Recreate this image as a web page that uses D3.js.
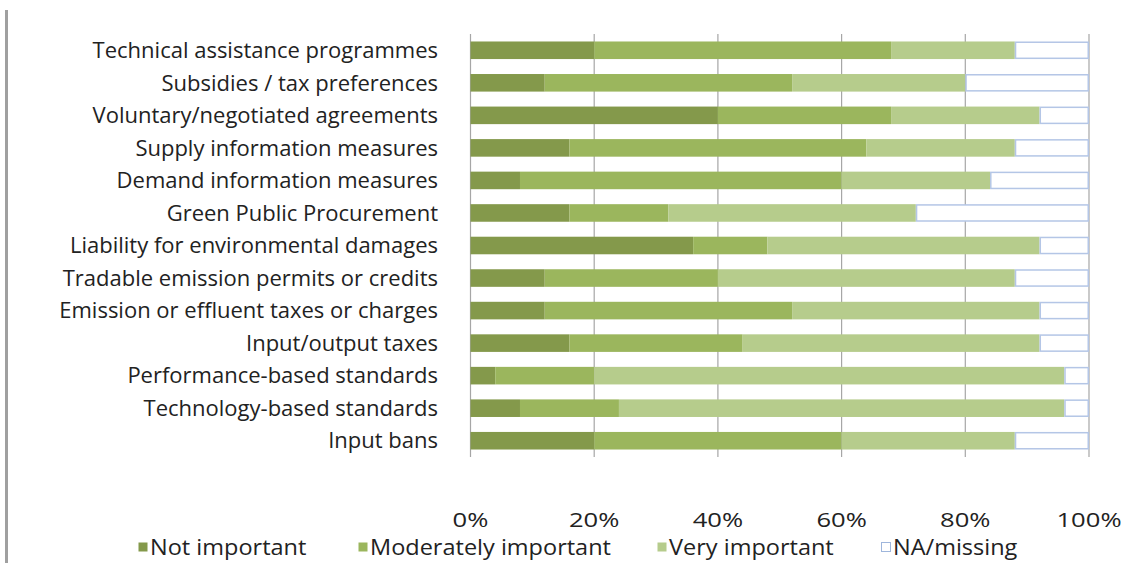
<!DOCTYPE html>
<html>
<head>
<meta charset="utf-8">
<script src="https://d3js.org/d3.v7.min.js"></script>
<style>
    body { margin: 0; background: #fff; }
    svg text { font-family: "Open Sans", sans-serif; fill: #222; }
</style>
</head>
<body>
<svg width="1133" height="563"></svg>
<script>
    // categories, top to bottom
    var categories = [
        "Technical assistance programmes",
        "Subsidies / tax preferences",
        "Voluntary/negotiated agreements",
        "Supply information measures",
        "Demand information measures",
        "Green Public Procurement",
        "Liability for environmental damages",
        "Tradable emission permits or credits",
        "Emission or effluent taxes or charges",
        "Input/output taxes",
        "Performance-based standards",
        "Technology-based standards",
        "Input bans"
    ];
    var seriesNames = ["Not important", "Moderately important", "Very important", "NA/missing"];
    // shares in percent
    var notImportant = [20, 12, 40, 16, 8, 16, 36, 12, 12, 16, 4, 8, 20];
    var moderately = [48, 40, 28, 48, 52, 16, 12, 28, 40, 28, 16, 16, 40];
    var veryImportant = [20, 28, 24, 24, 24, 40, 44, 48, 40, 48, 76, 72, 28];
    var naMissing = [12, 20, 8, 12, 16, 28, 8, 12, 8, 8, 4, 4, 12];
    var tickValues = [0, 20, 40, 60, 80, 100];

    var colors = ["#84994b", "#9bb65d", "#b6cc8c", "#ffffff"];

    var svg = d3.select('svg');

    // left frame line
    svg.append('line')
        .attr('x1', 6.5).attr('x2', 6.5)
        .attr('y1', 10).attr('y2', 563)
        .attr('stroke', '#a0a0a0').attr('stroke-width', 3);

    var xs = d3.scaleLinear().domain([0, 100]).range([470.5, 1089]);
    var ys = d3.scaleBand().domain(categories).range([34, 457])
        .paddingInner(0.46).paddingOuter(0.23);

    // grid lines
    svg.append('g').selectAll('line').data(tickValues).enter().append('line')
        .attr('x1', function (d) { return xs(d); })
        .attr('x2', function (d) { return xs(d); })
        .attr('y1', 34).attr('y2', 457)
        .attr('stroke', '#a6a6a6').attr('stroke-width', 1.2);

    var table = categories.map(function (c, i) {
        return { cat: c, vals: [notImportant[i], moderately[i], veryImportant[i], naMissing[i]] };
    });

    var rows = svg.append('g').selectAll('g').data(table).enter().append('g');
    rows.each(function (d) {
        var acc = 0;
        var g = d3.select(this);
        d.vals.forEach(function (v, k) {
            var r = g.append('rect')
                .attr('x', xs(acc))
                .attr('y', ys(d.cat))
                .attr('width', xs(acc + v) - xs(acc))
                .attr('height', ys.bandwidth())
                .attr('fill', colors[k]);
            if (k == 3) {
                r.attr('x', xs(acc) + 0.75)
                    .attr('y', ys(d.cat) + 0.75)
                    .attr('width', xs(acc + v) - xs(acc) - 1.5)
                    .attr('height', ys.bandwidth() - 1.5)
                    .attr('stroke', '#b4c6e6').attr('stroke-width', 1.5);
            }
            acc += v;
        });
    });

    // category labels
    svg.append('g').selectAll('text').data(categories).enter().append('text')
        .attr('x', 438)
        .attr('y', function (d) { return ys(d) + ys.bandwidth() / 2; })
        .attr('dy', '0.35em')
        .attr('text-anchor', 'end')
        .style('font-size', '22px')
        .text(function (d) { return d; });

    // tick labels (text in the source is a bit stretched sideways)
    svg.append('g').selectAll('text').data(tickValues).enter().append('text')
        .attr('transform', function (d) { return 'translate(' + xs(d) + ',520) scale(1.28,1)'; })
        .attr('dy', '0.35em')
        .attr('text-anchor', 'middle')
        .style('font-size', '20px')
        .text(function (d) { return d + '%'; });

    // legend
    var legendX = [138, 358, 657, 881];
    var leg = svg.append('g').selectAll('g').data(seriesNames).enter().append('g')
        .attr('transform', function (d, i) { return 'translate(' + legendX[i] + ',548)'; });
    leg.append('rect')
        .attr('x', 0.5).attr('y', -5.5).attr('width', 9).attr('height', 9)
        .attr('fill', function (d, i) { return colors[i]; })
        .attr('stroke', function (d, i) { return i == 3 ? '#9fb6dc' : 'none'; });
    leg.append('text')
        .attr('transform', 'translate(12,0) scale(1.12,1)')
        .attr('dy', '0.35em')
        .style('font-size', '21px')
        .text(function (d) { return d; });
</script>
</body>
</html>
